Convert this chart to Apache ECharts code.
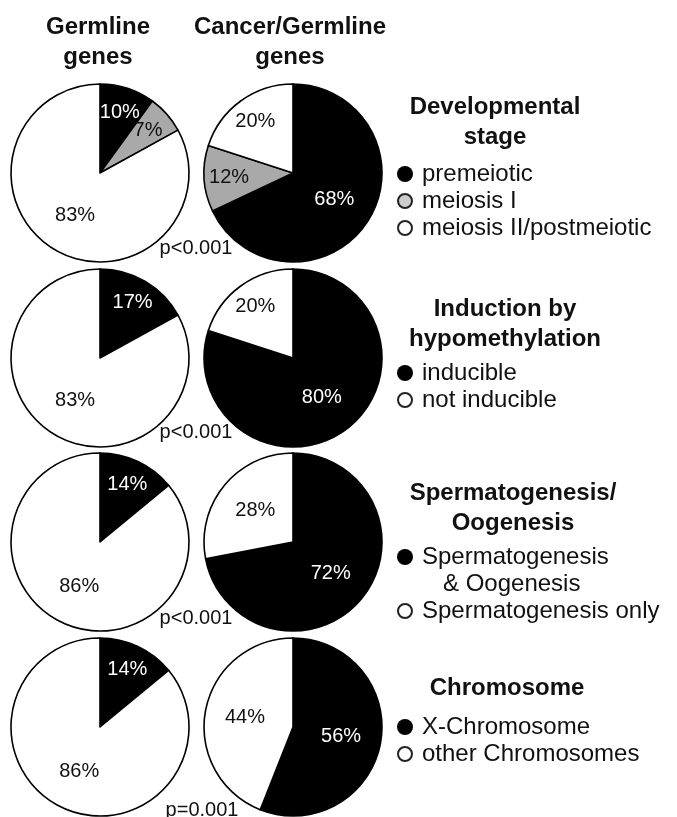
<!DOCTYPE html>
<html><head><meta charset="utf-8">
<script src="https://cdn.jsdelivr.net/npm/echarts@6/dist/echarts.min.js"></script>
<style>html,body{margin:0;padding:0;background:#fff}#c{width:677px;height:817px}</style>
</head><body><div id="c"></div>
<script>
// ---- data ----
const columnTitles = ['Germline\ngenes', 'Cancer/Germline\ngenes'];
const panelTitles = ['Developmental\nstage', 'Induction by\nhypomethylation', 'Spermatogenesis/\nOogenesis', 'Chromosome'];
const devCategories = ['premeiotic', 'meiosis I', 'meiosis II/postmeiotic'];
const devGermline = [10, 7, 83];
const devCancerGermline = [68, 12, 20];
const inductionCategories = ['inducible', 'not inducible'];
const inductionGermline = [17, 83];
const inductionCancerGermline = [80, 20];
const spermCategories = ['Spermatogenesis\n& Oogenesis', 'Spermatogenesis only'];
const spermGermline = [14, 86];
const spermCancerGermline = [72, 28];
const chromCategories = ['X-Chromosome', 'other Chromosomes'];
const chromGermline = [14, 86];
const chromCancerGermline = [56, 44];
const pValues = ['p<0.001', 'p<0.001', 'p<0.001', 'p=0.001'];

// ---- layout / style ----
const FONT = "'Liberation Sans', Arial, Helvetica, sans-serif";
const panels = [
  {cats: devCategories, vals: [devGermline, devCancerGermline]},
  {cats: inductionCategories, vals: [inductionGermline, inductionCancerGermline]},
  {cats: spermCategories, vals: [spermGermline, spermCancerGermline]},
  {cats: chromCategories, vals: [chromGermline, chromCancerGermline]}
];
const colX = [100, 293];
const rowY = [173, 358, 542, 727];
const R = 89;
const fill3 = ['#000000', '#a9a9a9', '#ffffff'];
const fill2 = ['#000000', '#ffffff'];
const legendFill3 = ['#000000', '#cdcdcd', '#ffffff'];
const legendFill2 = ['#000000', '#ffffff'];
const titleCX = [495, 505, 513, 507];
const titleCY = [122, 324, 508, 688];
const itemStartY = [174, 373, 557, 727];
const itemStep = 27;
const pX = [196, 196, 196, 202];
const pY = [248, 432, 618, 810];

function makeLabelLayout(cx, cy, vals) {
  const total = vals.reduce((a, b) => a + b, 0);
  return function (params) {
    let cum = 0;
    for (let i = 0; i < params.dataIndex; i++) cum += vals[i];
    const v = vals[params.dataIndex];
    const ang = (90 - (cum + v / 2) / total * 360) * Math.PI / 180;
    const k = v < 25 ? 0.72 : 0.55;
    return {x: cx + k * R * Math.cos(ang), y: cy - k * R * Math.sin(ang), align: 'center', verticalAlign: 'middle'};
  };
}

const series = [];
panels.forEach((p, r) => {
  const fills = p.cats.length === 3 ? fill3 : fill2;
  p.vals.forEach((vals, c) => {
    series.push({
      type: 'pie',
      center: [colX[c], rowY[r]],
      radius: R,
      startAngle: 90,
      clockwise: true,
      silent: true,
      animation: false,
      avoidLabelOverlap: false,
      itemStyle: {borderColor: '#000', borderWidth: 1.6},
      label: {show: true, position: 'outside', formatter: '{c}%', fontSize: 20, fontFamily: FONT},
      labelLine: {show: false},
      labelLayout: makeLabelLayout(colX[c], rowY[r], vals),
      emphasis: {disabled: true},
      data: p.cats.map((n, i) => ({
        name: n, value: vals[i],
        itemStyle: {color: fills[i]},
        label: {color: fills[i] === '#000000' ? '#ffffff' : '#111111'}
      }))
    });
  });
});

const graphic = [];
columnTitles.forEach((t, c) => {
  graphic.push({type: 'text', x: colX[c] - (c === 0 ? 2 : 3), y: 42,
    style: {text: t, font: 'bold 24px ' + FONT, fill: '#111', align: 'center', verticalAlign: 'middle', lineHeight: 30}});
});
panels.forEach((p, r) => {
  graphic.push({type: 'text', x: titleCX[r], y: titleCY[r],
    style: {text: panelTitles[r], font: 'bold 24px ' + FONT, fill: '#111', align: 'center', verticalAlign: 'middle', lineHeight: 30}});
  const lf = p.cats.length === 3 ? legendFill3 : legendFill2;
  let y = itemStartY[r];
  p.cats.forEach((n, i) => {
    graphic.push({type: 'circle', shape: {cx: 405, cy: y, r: i === 0 ? 8 : 7},
      style: {fill: lf[i], stroke: i === 0 ? '#000' : '#222', lineWidth: i === 0 ? 0 : 2}});
    const lines = n.split('\n');
    lines.forEach((ln, k) => {
      graphic.push({type: 'text', x: k === 0 ? 422 : 443, y: y + k * itemStep,
        style: {text: ln, font: '24px ' + FONT, fill: '#111', align: 'left', verticalAlign: 'middle'}});
    });
    y += itemStep * lines.length;
  });
  graphic.push({type: 'text', x: pX[r], y: pY[r],
    style: {text: pValues[r], font: '20px ' + FONT, fill: '#111', align: 'center', verticalAlign: 'middle'}});
});

const chart = echarts.init(document.getElementById('c'), null, {renderer: 'canvas'});
chart.setOption({
  backgroundColor: '#ffffff',
  animation: false,
  series: series,
  graphic: graphic
});
</script>
</body></html>
